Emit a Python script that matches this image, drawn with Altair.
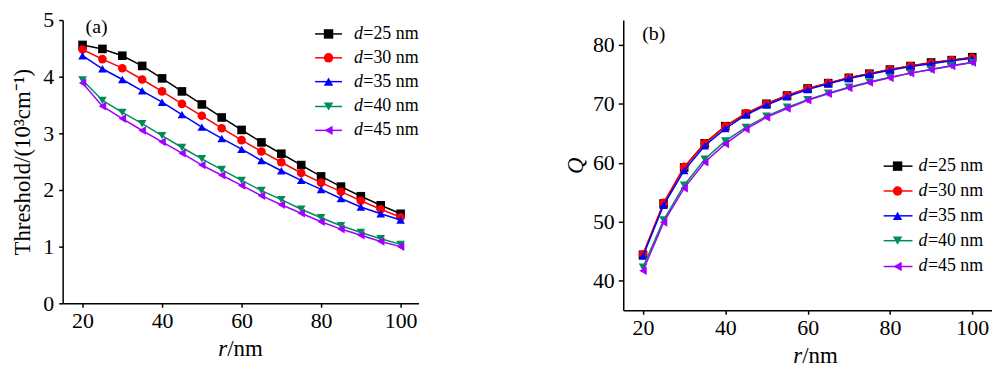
import altair as alt
import pandas as pd

r = [20, 25, 30, 35, 40, 45, 50, 55, 60, 65, 70, 75, 80, 85, 90, 95, 100]
series = ["d=25 nm", "d=30 nm", "d=35 nm", "d=40 nm", "d=45 nm"]
legend_rest = ["=25 nm", "=30 nm", "=35 nm", "=40 nm", "=45 nm"]
colors = ["#000000", "#ff0000", "#0000ff", "#008c5a", "#a000ff"]
shapes = ["square", "circle", "triangle-up", "triangle-down", "triangle-left"]

thr_25 = [4.56, 4.49, 4.37, 4.19, 3.97, 3.74, 3.51, 3.28, 3.06, 2.84, 2.64, 2.44, 2.24, 2.06, 1.89, 1.73, 1.58]
thr_30 = [4.48, 4.31, 4.15, 3.95, 3.74, 3.52, 3.31, 3.09, 2.88, 2.68, 2.49, 2.30, 2.13, 1.97, 1.81, 1.66, 1.52]
thr_35 = [4.37, 4.14, 3.95, 3.75, 3.55, 3.33, 3.11, 2.91, 2.72, 2.52, 2.34, 2.17, 2.01, 1.85, 1.70, 1.58, 1.47]
thr_40 = [3.94, 3.58, 3.37, 3.17, 2.96, 2.75, 2.55, 2.36, 2.17, 1.99, 1.83, 1.66, 1.51, 1.37, 1.25, 1.14, 1.04]
thr_45 = [3.89, 3.48, 3.26, 3.05, 2.85, 2.65, 2.44, 2.26, 2.08, 1.90, 1.74, 1.59, 1.44, 1.31, 1.20, 1.09, 1.00]

q_25 = [44.4, 53.1, 59.2, 63.3, 66.2, 68.3, 70.0, 71.4, 72.6, 73.5, 74.4, 75.1, 75.8, 76.4, 77.0, 77.4, 77.9]
q_30 = [44.5, 53.2, 59.3, 63.3, 66.2, 68.4, 70.0, 71.4, 72.6, 73.5, 74.4, 75.1, 75.8, 76.4, 76.9, 77.4, 77.8]
q_35 = [44.2, 52.8, 58.7, 62.9, 65.8, 68.1, 69.8, 71.2, 72.4, 73.4, 74.3, 75.0, 75.7, 76.3, 76.8, 77.3, 77.7]
q_40 = [42.3, 50.3, 56.2, 60.6, 63.7, 66.0, 67.9, 69.4, 70.7, 71.8, 72.8, 73.7, 74.5, 75.2, 75.8, 76.5, 77.0]
q_45 = [41.7, 49.9, 55.7, 60.1, 63.2, 65.7, 67.7, 69.2, 70.6, 71.7, 72.7, 73.6, 74.4, 75.2, 75.8, 76.4, 77.0]

FONT = "Liberation Serif"


def long_df(lists):
    rows = []
    for s, vals in zip(series, lists):
        for x, v in zip(r, vals):
            rows.append({"r": x, "v": v, "d": s})
    return pd.DataFrame(rows)


def panel(lists, xdom, ydom, yvals, ytitle, ytitle_italic, w, h, tag, tag_xy,
          leg_x, leg_rows, ytitle_pad, ylabel_pad, ytick, xt_shift):
    df = long_df(lists)
    color = alt.Color("d:N", scale=alt.Scale(domain=series, range=colors), legend=None)
    shape = alt.Shape("d:N", scale=alt.Scale(domain=series, range=shapes), legend=None)
    yaxis = alt.Axis(values=yvals, title=ytitle, grid=False, tickSize=ytick,
                     labelPadding=ylabel_pad, titlePadding=ytitle_pad,
                     titleFontStyle="italic" if ytitle_italic else "normal")
    base = alt.Chart(df).encode(
        x=alt.X("r:Q", scale=alt.Scale(domain=xdom, nice=False, zero=False),
                axis=alt.Axis(values=[20, 40, 60, 80, 100], title=None, grid=False,
                              tickSize=4, labelPadding=3)),
        y=alt.Y("v:Q", scale=alt.Scale(domain=ydom, nice=False, zero=False), axis=yaxis),
        color=color,
        order=alt.Order("r:Q"),
    )
    layers = []
    for s in series:
        sub = base.transform_filter(alt.datum.d == s)
        layers.append(sub.mark_line(strokeWidth=1.5))
        layers.append(sub.mark_point(filled=True, size=75, opacity=1).encode(shape=shape))

    # panel tag
    layers.append(alt.Chart(pd.DataFrame({"t": [tag]})).mark_text(
        font=FONT, fontSize=20, align="left", baseline="middle", color="black"
    ).encode(text="t:N", x=alt.value(tag_xy[0]), y=alt.value(tag_xy[1])))

    # x title: italic r + /nm
    cx = w / 2 + xt_shift
    layers.append(alt.Chart(pd.DataFrame({"t": ["r"]})).mark_text(
        font=FONT, fontSize=23, fontStyle="italic", align="left", baseline="alphabetic", color="black"
    ).encode(text="t:N", x=alt.value(cx - 22.5), y=alt.value(h + 53)))
    layers.append(alt.Chart(pd.DataFrame({"t": ["/nm"]})).mark_text(
        font=FONT, fontSize=23, align="left", baseline="alphabetic", color="black"
    ).encode(text="t:N", x=alt.value(cx - 13.5), y=alt.value(h + 53)))

    # manual legend
    x0, x1, xm, xt = leg_x
    for s, rest, c, sh, yy in zip(series, legend_rest, colors, shapes, leg_rows):
        one = pd.DataFrame({"d": [s]})
        layers.append(alt.Chart(one).mark_rule(color=c, strokeWidth=1.5).encode(
            x=alt.value(x0), x2=alt.value(x1), y=alt.value(yy)))
        layers.append(alt.Chart(one).mark_point(filled=True, size=90, opacity=1, color=c, shape=sh).encode(
            x=alt.value(xm), y=alt.value(yy)))
        layers.append(alt.Chart(pd.DataFrame({"t": ["d"]})).mark_text(
            font=FONT, fontSize=18, fontStyle="italic", align="left", baseline="middle", color="black"
        ).encode(text="t:N", x=alt.value(xt), y=alt.value(yy)))
        layers.append(alt.Chart(pd.DataFrame({"t": [rest]})).mark_text(
            font=FONT, fontSize=18, align="left", baseline="middle", color="black"
        ).encode(text="t:N", x=alt.value(xt + 9.5), y=alt.value(yy)))

    return alt.layer(*layers).properties(width=w, height=h)


left = panel([thr_25, thr_30, thr_35, thr_40, thr_45], [15, 104.5], [0, 5], [0, 1, 2, 3, 4, 5],
             "Threshold/(10³cm⁻¹)", False, 358, 285, "(a)", (23, 7),
             (254, 281, 267.5, 293), [14, 38, 62, 87, 111], 8, 5, 4, 0)

right = panel([q_25, q_30, q_35, q_40, q_45], [15.2, 104.8], [35, 84.2], [40, 50, 60, 70, 80],
              "Q", True, 371, 292, "(b)", (19, 14),
              (262, 291, 276, 297), [147, 172, 197, 222, 248], 5, 4, 5, 8)

chart = alt.hconcat(left, right, spacing=146).resolve_scale(
    x="independent", y="independent", color="independent", shape="independent"
).properties(
    padding={"left": 4, "top": 0, "right": 0, "bottom": 0}
).configure_view(stroke=None).configure_axis(
    labelFont=FONT, titleFont=FONT, labelFontSize=22, titleFontSize=23,
    titleFontWeight="normal", labelColor="black", titleColor="black",
    domainColor="black", tickColor="black", domainWidth=1.5, tickWidth=1.5
)

chart.save("out.html", embed_options={"renderer": "svg", "actions": False})
